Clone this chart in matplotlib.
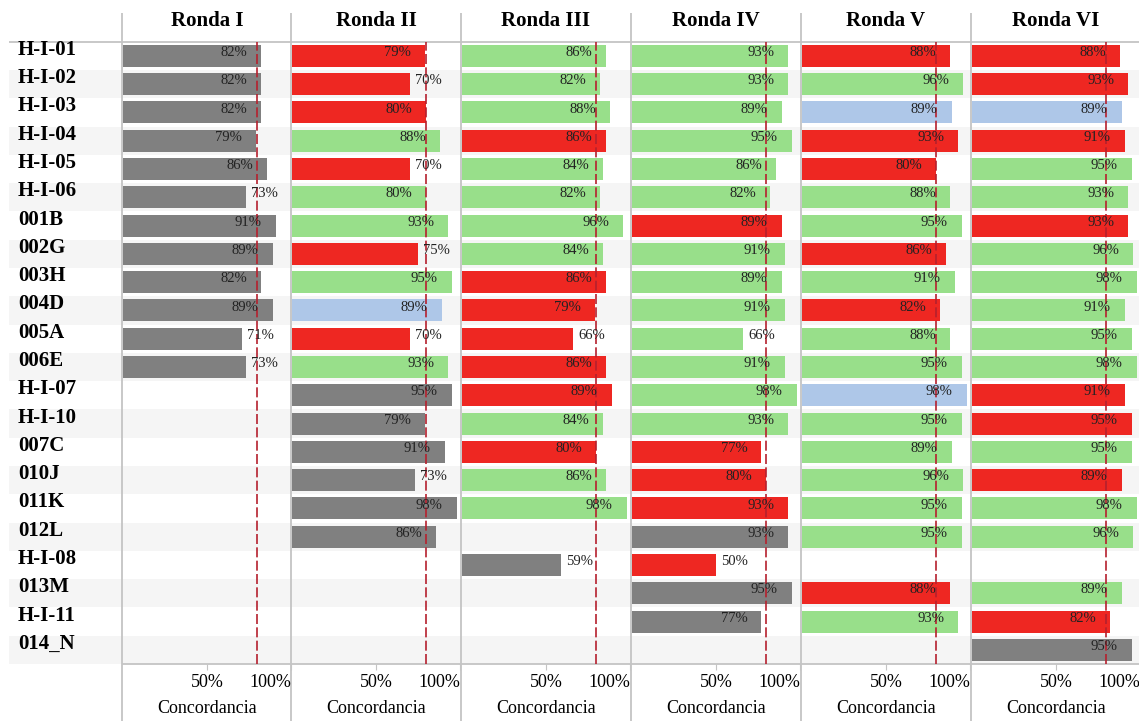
import matplotlib.pyplot as plt
from matplotlib.patches import Rectangle

plt.rcParams['font.family'] = ['Liberation Serif', 'DejaVu Serif']

filas = ['H-I-01', 'H-I-02', 'H-I-03', 'H-I-04', 'H-I-05', 'H-I-06', '001B', '002G',
         '003H', '004D', '005A', '006E', 'H-I-07', 'H-I-10', '007C', '010J', '011K',
         '012L', 'H-I-08', '013M', 'H-I-11', '014_N']
rondas = ['Ronda I', 'Ronda II', 'Ronda III', 'Ronda IV', 'Ronda V', 'Ronda VI']

# concordancia (%) por ronda, None = sin dato
ronda_1 = [82, 82, 82, 79, 86, 73, 91, 89, 82, 89, 71, 73,
           None, None, None, None, None, None, None, None, None, None]
ronda_2 = [79, 70, 80, 88, 70, 80, 93, 75, 95, 89, 70, 93,
           95, 79, 91, 73, 98, 86, None, None, None, None]
ronda_3 = [86, 82, 88, 86, 84, 82, 96, 84, 86, 79, 66, 86,
           89, 84, 80, 86, 98, None, 59, None, None, None]
ronda_4 = [93, 93, 89, 95, 86, 82, 89, 91, 89, 91, 66, 91,
           98, 93, 77, 80, 93, 93, 50, 95, 77, None]
ronda_5 = [88, 96, 89, 93, 80, 88, 95, 86, 91, 82, 88, 95,
           98, 95, 89, 96, 95, 95, None, 88, 93, None]
ronda_6 = [88, 93, 89, 91, 95, 93, 93, 96, 98, 91, 95, 98,
           91, 95, 95, 89, 98, 96, None, 89, 82, 95]

# g = gris, r = rojo, v = verde, a = azul
color_1 = 'gggggggggggg' + '----------'
color_2 = 'rrrvrvvrvarv' + 'gggggg----'
color_3 = 'vvvrvvvvrrrr' + 'rvrvv-g---'
color_4 = 'vvvvvvrvvvvv' + 'vvrrrgrgg-'
color_5 = 'rvarrvvrvrvv' + 'avvvvv-rv-'
color_6 = 'rrarvvrvvvvv' + 'rrvrvv-vrg'

valores = [ronda_1, ronda_2, ronda_3, ronda_4, ronda_5, ronda_6]
codigos = [color_1, color_2, color_3, color_4, color_5, color_6]
paleta = {'g': '#808080', 'r': '#ee2722', 'v': '#98df8a', 'a': '#aec7e8'}
referencia = 80

W, H = 1139, 721
top, bottom = 41.7, 664
n = len(filas)
rh = (bottom - top) / n
panel_x = [123, 292, 462, 632, 802, 972]
panel_w = 168
separadores = [122, 291, 461, 631, 801, 971]

fig = plt.figure(figsize=(W / 100, H / 100), dpi=100)

# fondo: franjas, separadores y etiquetas de fila
bg = fig.add_axes([0, 0, 1, 1])
bg.set_xlim(0, W)
bg.set_ylim(H, 0)
bg.axis('off')
for i in range(n):
    if i % 2 == 1:
        bg.add_patch(Rectangle((9, top + i * rh), W - 9, rh, color='#f5f5f5', lw=0))
    bg.text(18, top + (i + 0.5) * rh - 6, filas[i], fontsize=15, fontweight='bold',
            va='center', ha='left', color='black')
bg.vlines(separadores, 13, H, color='#c4c4c4', lw=1.3)
bg.hlines(top, 9, W, color='#c4c4c4', lw=1.3)
bg.hlines(bottom, 122, W, color='#c4c4c4', lw=1.3)

for k, ronda in enumerate(rondas):
    bg.text(panel_x[k] + panel_w / 2, 21, ronda, fontsize=15, fontweight='bold',
            ha='center', va='center')

    ax = fig.add_axes([panel_x[k] / W, (H - bottom) / H, panel_w / W, (bottom - top) / H])
    ax.set_facecolor('none')
    for s in ax.spines.values():
        s.set_visible(False)
    ax.set_xlim(0, 100)
    ax.set_ylim(n - 0.5, -0.5)
    ax.set_yticks([])

    for i, v in enumerate(valores[k]):
        if v is None:
            continue
        ax.barh(i, v, height=0.78, color=paleta[codigos[k][i]], zorder=2)
        if v >= 76:
            ax.text(v - 8.3, i - 0.12, f'{v}%', ha='right', va='center',
                    fontsize=10.5, color='#222222', zorder=4)
        else:
            ax.text(v + 3, i - 0.12, f'{v}%', ha='left', va='center',
                    fontsize=10.5, color='#222222', zorder=4)

    ax.axvline(referencia, color='#b5202e', lw=1.2, linestyle=(0, (6, 2)), zorder=3)

    ax.set_xticks([50, 100], ['50%', '100%'])
    ax.get_xticklabels()[1].set_ha('right')
    ax.tick_params(axis='x', length=4, color='#c4c4c4', labelsize=13, pad=3)
    ax.set_xlabel('Concordancia', fontsize=13, labelpad=7)

fig.savefig('out.png', dpi=100)
